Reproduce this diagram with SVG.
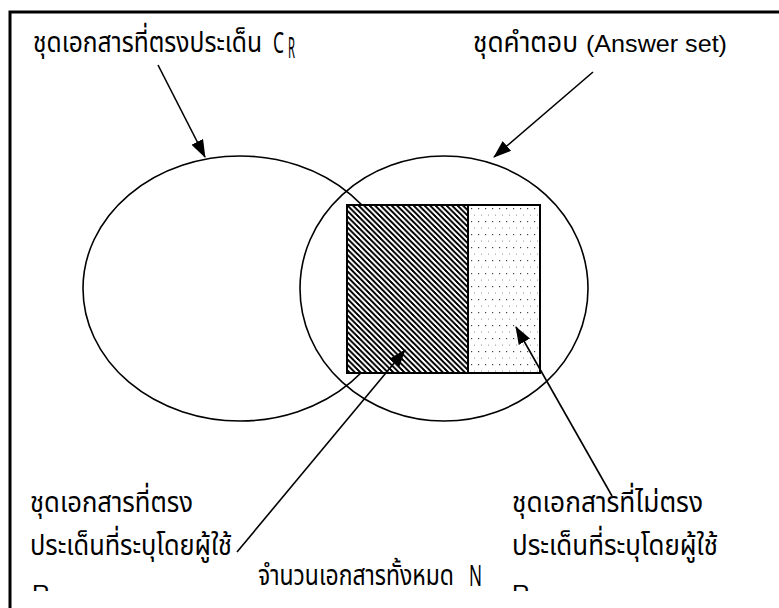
<svg xmlns="http://www.w3.org/2000/svg" width="779" height="608" viewBox="0 0 779 608">
<style>
.th{font-family:"Noto Sans Thai","Loma","Garuda","Norasi","Waree","DejaVu Sans",sans-serif;font-size:29px;fill:#000}
.la{font-family:"Liberation Sans",Arial,sans-serif;font-size:24.5px;fill:#000}
.ln{fill:none;stroke:#000;stroke-width:1.6}
.ar{fill:none;stroke:#000;stroke-width:1.6;marker-end:url(#ah)}
</style>
<defs>
<marker id="ah" markerUnits="userSpaceOnUse" markerWidth="18" markerHeight="13" refX="17" refY="6.5" orient="auto">
<path d="M0,0 L18,6.5 L0,13 z" fill="#000"/>
</marker>
<pattern id="hatch" patternUnits="userSpaceOnUse" x="347" y="205" width="5.5" height="5.5">
<path d="M-1,-1 L6.5,6.5 M-1,4.5 L1,6.5 M4.5,-1 L6.5,1" stroke="#000" stroke-width="2" fill="none" shape-rendering="crispEdges"/>
</pattern>
<pattern id="dots" patternUnits="userSpaceOnUse" x="468" y="205" width="7" height="13">
<rect x="3" y="3" width="1.2" height="1.2" fill="#444"/>
<rect x="6.5" y="9.5" width="1.2" height="1.2" fill="#444"/>
</pattern>
<clipPath id="cut"><rect x="0" y="570" width="779" height="21"/></clipPath>
</defs>
<rect width="779" height="608" fill="#fff"/>
<path d="M10,608 V12 H779" fill="none" stroke="#000" stroke-width="3"/>

<g id="relevant-set">
<ellipse cx="240" cy="288.5" rx="157" ry="132.5" class="ln"/>
</g>
<g id="answer-set">
<ellipse cx="444" cy="288.5" rx="144" ry="132.5" class="ln"/>
</g>
<g id="relevant-answered">
<rect x="347" y="205" width="121" height="168" fill="#fff"/>
<rect x="347" y="205" width="121" height="168" fill="url(#hatch)" stroke="#000" stroke-width="2"/>
</g>
<g id="irrelevant-answered">
<rect x="468" y="205" width="72" height="168" fill="#fff"/>
<rect x="468" y="205" width="72" height="168" fill="url(#dots)" stroke="#000" stroke-width="2"/>
</g>

<g id="label-relevant">
<text class="th" x="33" y="52" textLength="229" lengthAdjust="spacingAndGlyphs">ชุดเอกสารที่ตรงประเด็น</text>
<text class="th" x="273" y="53" font-size="34" textLength="11" lengthAdjust="spacingAndGlyphs">C</text>
<text class="th" x="288" y="58" font-size="19" textLength="7" lengthAdjust="spacingAndGlyphs">R</text>
</g>
<g id="label-answer">
<text class="th" x="473" y="52" textLength="105" lengthAdjust="spacingAndGlyphs">ชุดคำตอบ</text>
<text class="la" x="586" y="52" textLength="141" lengthAdjust="spacingAndGlyphs">(Answer set)</text>
</g>
<g id="label-relevant-retrieved">
<text class="th" x="30" y="512" textLength="163" lengthAdjust="spacingAndGlyphs">ชุดเอกสารที่ตรง</text>
<text class="th" x="30" y="555" textLength="202" lengthAdjust="spacingAndGlyphs">ประเด็นที่ระบุโดยผู้ใช้</text>
<text class="la" x="32" y="602" clip-path="url(#cut)">R</text>
</g>
<g id="label-irrelevant-retrieved">
<text class="th" x="512" y="512" textLength="191" lengthAdjust="spacingAndGlyphs">ชุดเอกสารที่ไม่ตรง</text>
<text class="th" x="512" y="555" textLength="206" lengthAdjust="spacingAndGlyphs">ประเด็นที่ระบุโดยผู้ใช้</text>
<text class="la" x="512" y="602" clip-path="url(#cut)">R</text>
</g>
<g id="label-total">
<text class="th" x="258" y="585" textLength="196" lengthAdjust="spacingAndGlyphs">จำนวนเอกสารทั้งหมด</text>
<text class="th" x="469" y="586" font-size="33" textLength="13" lengthAdjust="spacingAndGlyphs">N</text>
</g>

<g id="connectors">
<line x1="158" y1="65" x2="205" y2="157" class="ar"/>
<line x1="593" y1="72" x2="494" y2="157" class="ar"/>
<line x1="237" y1="552" x2="405" y2="350" class="ar"/>
<line x1="612" y1="496" x2="516" y2="327" class="ar"/>
</g>
</svg>
